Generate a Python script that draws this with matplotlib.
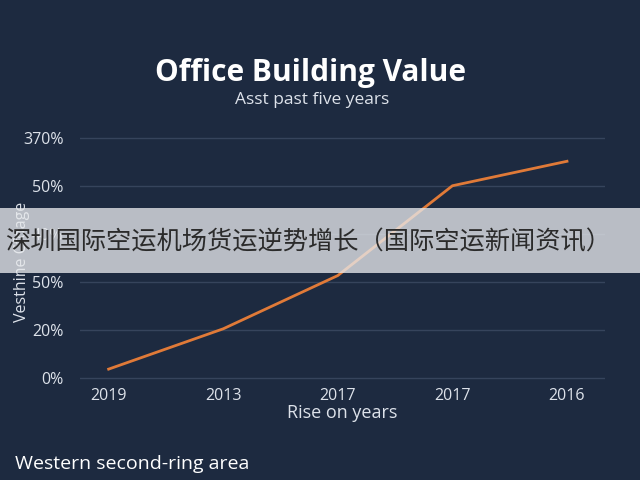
import matplotlib
matplotlib.use("Agg")
import matplotlib.pyplot as plt
from matplotlib.patches import Rectangle

# Data
x_labels = ["2019", "2013", "2017", "2017", "2016"]
values = [0.19, 1.03, 2.14, 4.01, 4.52]
y_tick_labels = ["0%", "20%", "50%", "40%", "50%", "370%"]

title = "Office Building Value"
subtitle = "Asst past five years"
x_label = "Rise on years"
y_label = "Vesthine Cfoage"
footer = "Western second-ring area"
banner_text = "深圳国际空运机场货运逆势增长（国际空运新闻资讯）"

bg = "#1d2a40"
fg = "#dde2ea"
grid_c = "#36445c"
line_c = "#e07a38"

plt.rcParams['font.family'] = ['Open Sans', 'DejaVu Sans']

fig = plt.figure(figsize=(6.4, 4.8), dpi=100, facecolor=bg)
ax = fig.add_axes([0.125, 0.208, 0.82, 0.508])
ax.set_facecolor(bg)

xs = list(range(len(x_labels)))
ax.plot(xs, values, color=line_c, lw=2, zorder=3)

ax.set_xlim(-0.25, 4.33)
ax.set_ylim(-0.04, 5.04)
ax.set_yticks(range(len(y_tick_labels)))
ax.set_yticklabels(y_tick_labels)
ax.set_xticks(xs)
ax.set_xticklabels(x_labels)
ax.grid(axis='y', color=grid_c, lw=1)
ax.tick_params(axis='both', length=0, colors=fg, labelsize=11.5)
ax.tick_params(axis='y', pad=12)
ax.tick_params(axis='x', pad=6)
for s in ax.spines.values():
    s.set_visible(False)

ax.set_xlabel(x_label, color=fg, fontsize=13, labelpad=0)

fig.text(0.035, 0.455, y_label, rotation=90, color=fg, fontsize=11.5,
         ha='center', va='center')
fig.text(0.485, 0.847, title, color='white', fontsize=21.5, fontweight='bold',
         ha='center', va='center')
fig.text(0.488, 0.792, subtitle, color=fg, fontsize=12.5, ha='center', va='center')
fig.text(0.023, 0.033, footer, color='white', fontsize=14, ha='left', va='center')

# Banner overlay
fig.patches.append(Rectangle((0, 1 - 273/480), 1, 65/480, transform=fig.transFigure,
                             facecolor='#e6e8eb', alpha=0.78, edgecolor='none', zorder=10))
fig.text(0.008, 1 - 242/480, banner_text, color='#2b2b2b', fontsize=18.2,
         family=['Noto Sans CJK SC', 'DejaVu Sans'], ha='left', va='center', zorder=11)

fig.savefig("out.png", dpi=100, facecolor=bg)
